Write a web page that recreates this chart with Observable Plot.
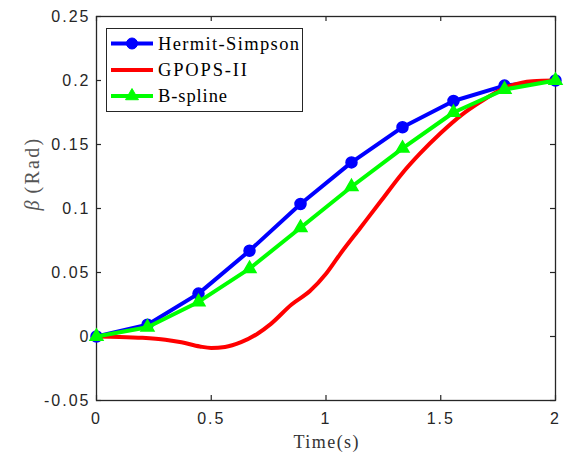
<!DOCTYPE html>
<html><head><meta charset="utf-8">
<script src="https://cdn.jsdelivr.net/npm/d3@7"></script>
<script src="https://cdn.jsdelivr.net/npm/@observablehq/plot@0.6"></script>
<style>body{margin:0;background:#fff}</style>
</head><body><div id="chart"></div>
<script>
// ---- data ----
const seriesNames = ["Hermit-Simpson", "GPOPS-II", "B-spline"];
const nodeTimes = [0, 0.2222, 0.4444, 0.6667, 0.8889, 1.1111, 1.3333, 1.5556, 1.7778, 2];
const hermitSimpson = [0, 0.0092, 0.0335, 0.067, 0.1035, 0.136, 0.1635, 0.184, 0.196, 0.2];
const bSpline = [0, 0.0072, 0.027, 0.053, 0.085, 0.117, 0.147, 0.175, 0.193, 0.2];
const gpopsTimes = [0, 0.1, 0.2, 0.3, 0.37, 0.45, 0.5, 0.56, 0.63, 0.7, 0.76, 0.85, 0.93, 1.0, 1.06, 1.15, 1.24, 1.33, 1.41, 1.5, 1.59, 1.67, 1.79, 1.9, 2.0];
const gpopsValues = [0, -0.0003, -0.001, -0.0025, -0.0045, -0.0078, -0.009, -0.0082, -0.0044, 0.002, 0.0099, 0.025, 0.0355, 0.049, 0.064, 0.085, 0.106, 0.127, 0.143, 0.159, 0.173, 0.183, 0.195, 0.1995, 0.2];
const xTicks = [0, 0.5, 1, 1.5, 2];
const yTicks = [-0.05, 0, 0.05, 0.1, 0.15, 0.2, 0.25];
const xLabel = "Time(s)";
const yLabelSymbol = "β";
const yLabelUnit = "(Rad)";

const hsRows = nodeTimes.map((t, i) => ({t, v: hermitSimpson[i]}));
const bsRows = nodeTimes.map((t, i) => ({t, v: bSpline[i]}));
const gpRows = gpopsTimes.map((t, i) => ({t, v: gpopsValues[i]}));

const fmt = d => d < 0 ? "-" + String(Math.abs(d)) : String(d);
const axisColor = "#262626";
const BLUE = "#0000ff", RED = "#ff0000", GREEN = "#00ff00";

const plot = Plot.plot({
  width: 564, height: 463,
  marginLeft: 96, marginRight: 9, marginTop: 16, marginBottom: 63,
  style: {fontFamily: "Liberation Sans", background: "white", color: axisColor},
  x: {domain: [0, 2]},
  y: {domain: [-0.05, 0.25]},
  marks: [
    Plot.axisX(xTicks, {tickSize: 0, tickPadding: 12, fontSize: 16, tickFormat: fmt, label: null, fill: axisColor}),
    Plot.axisY(yTicks, {tickSize: 0, tickPadding: 6, fontSize: 16, tickFormat: fmt, label: null, fill: axisColor}),
    Plot.tickX(xTicks, {x: d => d, insetTop: 379, stroke: axisColor, strokeWidth: 1.2}),
    Plot.tickX(xTicks, {x: d => d, insetBottom: 379, stroke: axisColor, strokeWidth: 1.2}),
    Plot.tickY(yTicks, {y: d => d, insetRight: 454, stroke: axisColor, strokeWidth: 1.2}),
    Plot.tickY(yTicks, {y: d => d, insetLeft: 454, stroke: axisColor, strokeWidth: 1.2}),
    Plot.frame({stroke: axisColor, strokeWidth: 1.3}),
    Plot.line(hsRows, {x: "t", y: "v", stroke: BLUE, strokeWidth: 4}),
    Plot.dot(hsRows, {x: "t", y: "v", r: 5.5, fill: BLUE, stroke: BLUE}),
    Plot.line(gpRows, {x: "t", y: "v", stroke: RED, strokeWidth: 4, curve: "monotone-x"}),
    Plot.line(bsRows, {x: "t", y: "v", stroke: GREEN, strokeWidth: 4}),
    Plot.dot(bsRows, {x: "t", y: "v", symbol: "triangle", r: 4.8, fill: GREEN, stroke: GREEN}),
    Plot.text([xLabel], {text: d => d, frameAnchor: "bottom", dy: 47, fontSize: 18, fontFamily: "Liberation Serif", fill: "#333", className: "xlab"}),
    Plot.text([yLabelSymbol + " " + yLabelUnit], {text: d => d, frameAnchor: "left", dx: -64, dy: 2, rotate: -90, fontSize: 20, fontFamily: "Liberation Serif", fill: "#555", className: "ylab"})
  ]
});
document.getElementById("chart").appendChild(plot);

const svg = d3.select(plot);
svg.selectAll('g[aria-label="x-axis tick label"] text, g[aria-label="y-axis tick label"] text').attr("letter-spacing", "2px");
svg.select("g.xlab text").attr("textLength", 65).attr("lengthAdjust", "spacing");
const yl = svg.select("g.ylab text");
yl.text(null);
yl.append("tspan").attr("font-style", "italic").text(yLabelSymbol);
yl.append("tspan").attr("dx", 7).attr("letter-spacing", "2.3px").text(yLabelUnit);

// ---- legend ----
const lg = svg.append("g").attr("font-family", "Liberation Serif").attr("font-size", 18.5)
  .attr("fill", "#000").attr("text-anchor", "start");
lg.append("rect").attr("x", 106.5).attr("y", 28.5).attr("width", 196).attr("height", 83)
  .attr("fill", "white").attr("stroke", axisColor).attr("stroke-width", 1);
const rows = [
  {name: seriesNames[0], color: BLUE, sym: d3.symbolCircle, r: 5.5, w: 141},
  {name: seriesNames[1], color: RED, sym: null, w: 89},
  {name: seriesNames[2], color: GREEN, sym: d3.symbolTriangle, r: 4.8, w: 69}
];
const rowY = [43.5, 70, 96];
rows.forEach((r, i) => {
  const cy = rowY[i];
  lg.append("line").attr("x1", 111).attr("x2", 153).attr("y1", cy).attr("y2", cy)
    .attr("stroke", r.color).attr("stroke-width", 4);
  if (r.sym) {
    lg.append("path").attr("d", d3.symbol(r.sym, Math.PI * r.r * r.r)()).attr("transform", `translate(132,${cy})`)
      .attr("fill", r.color).attr("stroke", r.color);
  }
  lg.append("text").attr("x", 158).attr("y", cy + 6).attr("textLength", r.w).attr("lengthAdjust", "spacing").text(r.name);
});
</script>
</body></html>
